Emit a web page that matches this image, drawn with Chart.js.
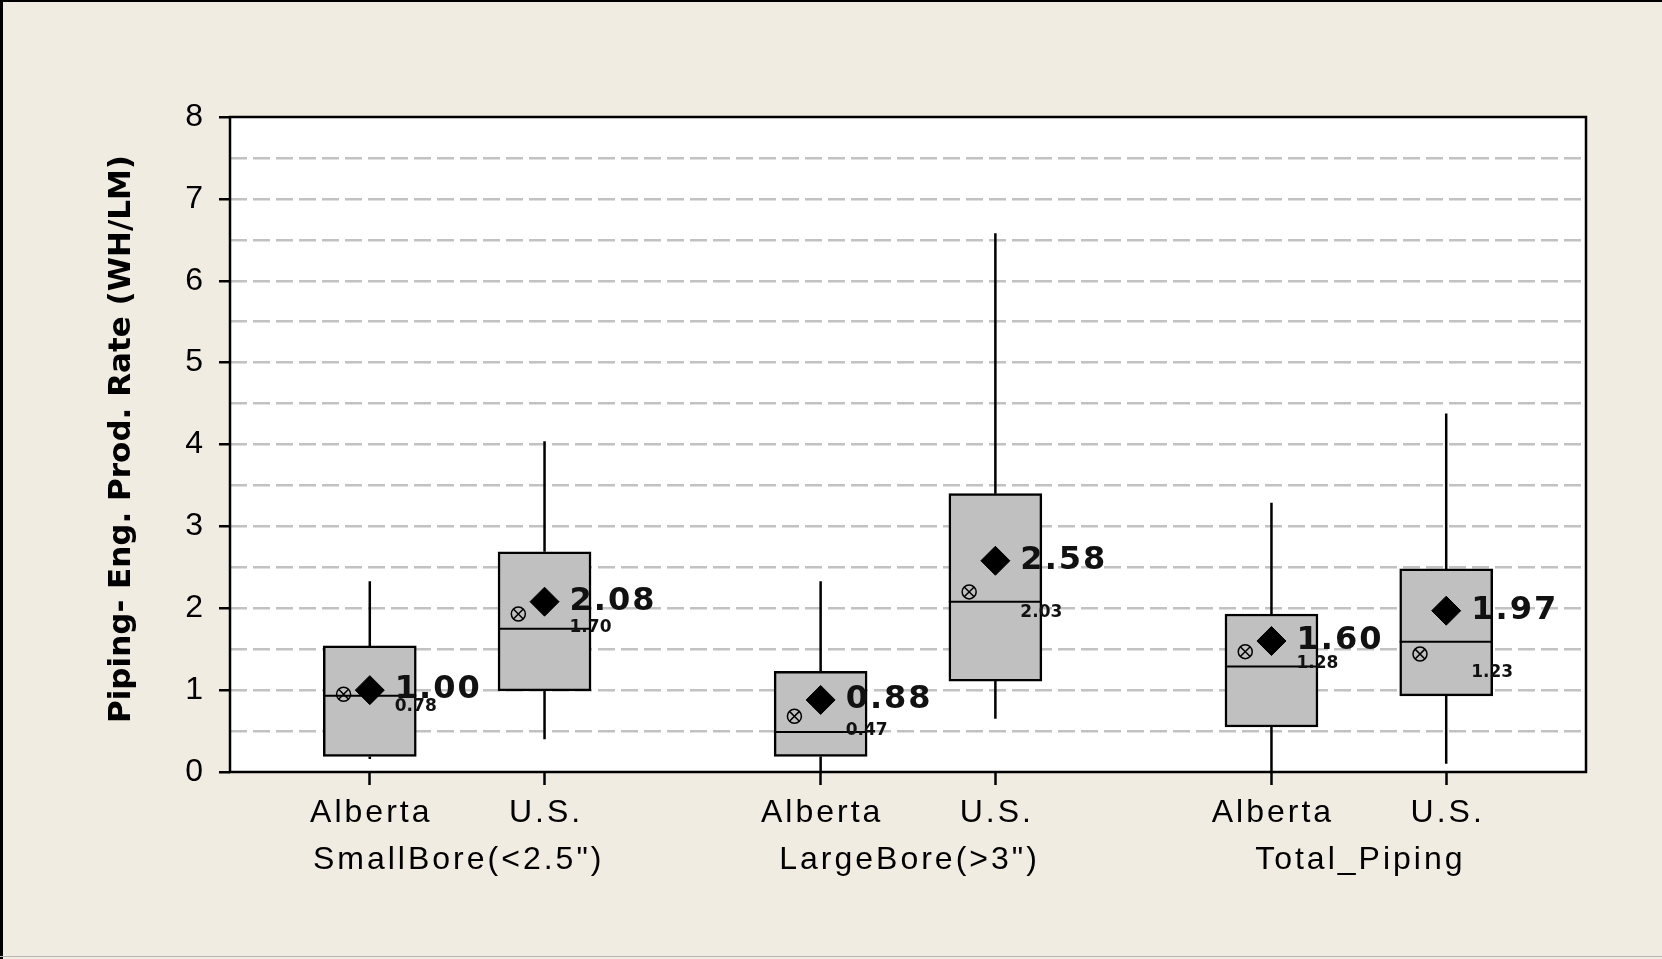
<!DOCTYPE html>
<html>
<head>
<meta charset="utf-8">
<script src="https://cdn.jsdelivr.net/npm/chart.js@4.4.1/dist/chart.umd.min.js"></script>
<style>
  html, body { margin: 0; padding: 0; background: #f0ece2; }
  #wrap { width: 1662px; height: 959px; }
</style>
</head>
<body>
<div id="wrap"><canvas id="myChart" width="1662" height="959"></canvas></div>
<script>
let regions = ['Alberta', 'U.S.', 'Alberta', 'U.S.', 'Alberta', 'U.S.'];
let groups = ['SmallBore(<2.5")', 'LargeBore(>3")', 'Total_Piping'];
let xPos = [1, 2, 3.58, 4.58, 6.16, 7.16];

// box plot values
let whiskerLow = [0.16, 0.40, 0.00, 0.65, 0.00, 0.10];
let q1 = [0.19, 0.99, 0.19, 1.11, 0.55, 0.93];
let median = [0.93, 1.75, 0.49, 2.08, 1.29, 1.59];
let q3 = [1.54, 2.69, 1.23, 3.40, 1.93, 2.48];
let whiskerHigh = [2.33, 4.04, 2.33, 6.58, 3.29, 4.38];
let means = [1.00, 2.08, 0.88, 2.58, 1.60, 1.97];
let crossMarks = [0.95, 1.93, 0.68, 2.20, 1.47, 1.44];
let smallLabels = ['0.78', '1.70', '0.47', '2.03', '1.28', '1.23'];
let smallLabelY = [0.80, 1.76, 0.51, 1.95, 1.32, 1.21];

let yTitle = 'Piping- Eng. Prod. Rate (WH/LM)';

let boxExtras = {
  id: 'boxExtras',
  beforeDraw(chart) {
    let c = chart.ctx, a = chart.chartArea;
    c.save();
    c.fillStyle = '#f0ece2';
    c.fillRect(0, 0, chart.width, chart.height);
    c.fillStyle = '#fff';
    c.fillRect(a.left, a.top, a.right - a.left, a.bottom - a.top);
    c.restore();
  },
  afterDatasetDraw(chart, args) {
    if (args.index !== 0) return;
    let c = chart.ctx, x = chart.scales.x, y = chart.scales.y;
    let half = 93 / 2;
    c.save();
    c.strokeStyle = '#000';
    xPos.forEach((v, i) => {
      let px = x.getPixelForValue(v);
      c.lineWidth = 2.5;
      c.beginPath();
      c.moveTo(px, y.getPixelForValue(whiskerHigh[i]));
      c.lineTo(px, y.getPixelForValue(q3[i]));
      c.moveTo(px, y.getPixelForValue(q1[i]));
      c.lineTo(px, y.getPixelForValue(whiskerLow[i]));
      c.stroke();
      c.lineWidth = 2;
      c.beginPath();
      let my = y.getPixelForValue(median[i]);
      c.moveTo(px - half, my);
      c.lineTo(px + half, my);
      c.stroke();
    });
    c.restore();
  },
  afterDraw(chart) {
    let c = chart.ctx, a = chart.chartArea, x = chart.scales.x, y = chart.scales.y;
    c.save();
    // plot frame
    c.strokeStyle = '#000';
    c.lineWidth = 2.5;
    c.strokeRect(a.left, a.top, a.right - a.left, a.bottom - a.top);

    // value labels
    c.fillStyle = '#111';
    c.textAlign = 'left';
    c.textBaseline = 'middle';
    xPos.forEach((v, i) => {
      let px = x.getPixelForValue(v);
      c.font = 'bold 32px "DejaVu Sans"';
      c.letterSpacing = '2px';
      c.fillText(means[i].toFixed(2), px + 25, y.getPixelForValue(means[i]));
      c.font = 'bold 17px "DejaVu Sans"';
      c.letterSpacing = '0px';
      c.fillText(smallLabels[i], px + 25, y.getPixelForValue(smallLabelY[i]));
    });

    // category labels
    c.fillStyle = '#000';
    c.textAlign = 'center';
    c.textBaseline = 'alphabetic';
    c.font = '32px "Liberation Sans"';
    c.letterSpacing = '3px';
    xPos.forEach((v, i) => {
      c.fillText(regions[i], x.getPixelForValue(v) + 1.5, 822);
    });
    groups.forEach((g, k) => {
      let mid = (x.getPixelForValue(xPos[2 * k]) + x.getPixelForValue(xPos[2 * k + 1])) / 2;
      c.fillText(g, mid + 1.5, 869);
    });

    // y axis title
    c.letterSpacing = '0px';
    c.font = 'bold 31px "DejaVu Sans"';
    c.translate(130, 439);
    c.rotate(-Math.PI / 2);
    c.fillText(yTitle, 0, 0);
    c.restore();

    // outer border
    c.save();
    c.fillStyle = '#000';
    c.fillRect(0, 0, 3, chart.height);
    c.fillRect(0, 0, chart.width, 2);
    c.fillStyle = '#b8b8b8';
    c.fillRect(0, chart.height - 3, chart.width, 1);
    c.restore();
  }
};

let ctx = document.getElementById('myChart').getContext('2d');

let myChart = new Chart(ctx, {
  type: 'bar',
  data: {
    datasets: [{
      type: 'bar',
      data: xPos.map((v, i) => ({ x: v, y: [q1[i], q3[i]] })),
      backgroundColor: '#c0c0c0',
      borderColor: '#000',
      borderWidth: 2.5,
      borderSkipped: false,
      barThickness: 93,
      order: 3
    }, {
      type: 'scatter',
      data: xPos.map((v, i) => ({ x: v, y: means[i] })),
      pointStyle: 'rectRot',
      radius: 14.5,
      backgroundColor: '#000',
      borderColor: '#000',
      borderWidth: 1,
      order: 1
    }, {
      type: 'scatter',
      data: xPos.map((v, i) => ({ x: v - 0.15, y: crossMarks[i] })),
      pointStyle: 'circle',
      radius: 7,
      backgroundColor: 'rgba(0,0,0,0)',
      borderColor: '#000',
      borderWidth: 1.5,
      order: 2
    }, {
      type: 'scatter',
      data: xPos.map((v, i) => ({ x: v - 0.15, y: crossMarks[i] })),
      pointStyle: 'crossRot',
      radius: 7,
      borderColor: '#000',
      borderWidth: 1.5,
      order: 2
    }]
  },
  options: {
    responsive: false,
    animation: false,
    layout: {
      padding: { top: 117, right: 76, left: 0, bottom: 0 }
    },
    plugins: {
      legend: { display: false },
      tooltip: { enabled: false }
    },
    scales: {
      x: {
        type: 'linear',
        min: 0.2,
        max: 7.96,
        offset: false,
        afterBuildTicks: (scale) => {
          scale.ticks = xPos.map(v => ({ value: v }));
        },
        afterFit: (scale) => { scale.height = 187; },
        ticks: { display: false },
        grid: {
          offset: false,
          drawOnChartArea: false,
          tickLength: 13,
          tickWidth: 2.5,
          tickColor: '#000'
        },
        border: { display: false }
      },
      y: {
        min: 0,
        max: 8,
        afterFit: (scale) => { scale.width = 230; },
        ticks: {
          stepSize: 0.5,
          autoSkip: false,
          padding: 16,
          color: '#000',
          font: { family: 'Liberation Sans', size: 32 },
          callback: (value) => Number.isInteger(value) ? value : ''
        },
        grid: {
          color: (context) => (context.tick.value === 0 || context.tick.value === 8) ? 'rgba(0,0,0,0)' : '#c2c2c2',
          lineWidth: 2.5,
          tickLength: 11,
          tickWidth: 2.5,
          tickColor: (context) => Number.isInteger(context.tick.value) ? '#000' : 'rgba(0,0,0,0)'
        },
        border: { display: false, dash: [17, 6] }
      }
    }
  },
  plugins: [boxExtras]
});
</script>
</body>
</html>
